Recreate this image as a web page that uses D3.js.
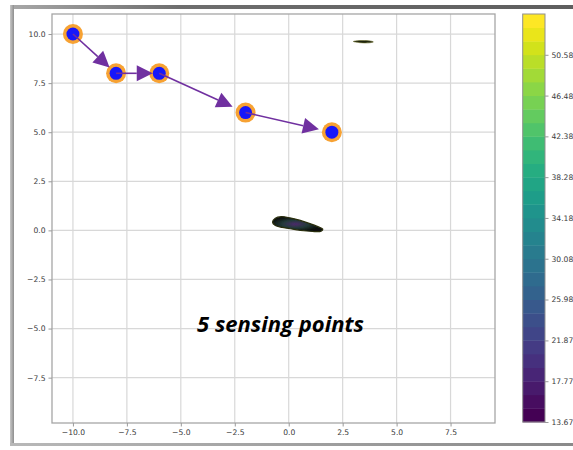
<!DOCTYPE html>
<html>
<head>
<meta charset="utf-8">
<script src="https://cdn.jsdelivr.net/npm/d3@7"></script>
<style>
  html, body { margin: 0; padding: 0; background: #fff; }
  svg { display: block; }
</style>
</head>
<body>
<svg id="chart" width="573" height="450"></svg>
<script>
// Sensing path: positions visited, in order
const pathX = [-10, -8, -6, -2, 2];
const pathY = [10, 8, 8, 6, 5];

// Axis ticks
const xTicks = [-10.0, -7.5, -5.0, -2.5, 0.0, 2.5, 5.0, 7.5];
const yTicks = [10.0, 7.5, 5.0, 2.5, 0.0, -2.5, -5.0, -7.5];

// Colour scale of the field (contour levels)
const levelMin = 13.67;
const levelMax = 54.68;
const levelCount = 30;
const cbarTickLabels = ["13.67", "17.77", "21.87", "25.98", "30.08", "34.18", "38.28", "42.38", "46.48", "50.58"];

// Field regions that rise above the lowest level
const blobX = [-0.75, -0.62, -0.35, 0.05, 0.5, 0.95, 1.35, 1.58, 1.5, 1.2, 0.7, 0.2, -0.3, -0.62];
const blobY = [0.42, 0.62, 0.7, 0.64, 0.52, 0.36, 0.19, 0.06, -0.04, -0.06, -0.02, 0.06, 0.15, 0.25];
const dashX = [3.0, 3.3, 3.7, 3.92, 3.7, 3.3];
const dashY = [9.62, 9.67, 9.66, 9.6, 9.55, 9.56];

const arrowFraction = 0.85;

const svg = d3.select("#chart");

// Outer frame
const defs = svg.append("defs");
const gTop = defs.append("linearGradient").attr("id", "frameTop").attr("x1", "0").attr("x2", "1");
gTop.append("stop").attr("offset", "0").attr("stop-color", "#a8a8a8");
gTop.append("stop").attr("offset", "0.3").attr("stop-color", "#6e6e6e");
gTop.append("stop").attr("offset", "1").attr("stop-color", "#5e5e5e");
const gBot = defs.append("linearGradient").attr("id", "frameBot").attr("x1", "0").attr("x2", "1");
gBot.append("stop").attr("offset", "0").attr("stop-color", "#b8b8b8");
gBot.append("stop").attr("offset", "1").attr("stop-color", "#8a8a8a");
const gLeft = defs.append("linearGradient").attr("id", "frameLeft").attr("x1", "0").attr("x2", "1");
gLeft.append("stop").attr("offset", "0").attr("stop-color", "#c8c8c8");
gLeft.append("stop").attr("offset", "1").attr("stop-color", "#8e8e8e");

svg.append("rect").attr("x", 10).attr("y", 5).attr("width", 563).attr("height", 4).attr("fill", "url(#frameTop)");
svg.append("rect").attr("x", 10).attr("y", 5).attr("width", 4).attr("height", 441).attr("fill", "url(#frameLeft)");
svg.append("rect").attr("x", 10).attr("y", 443).attr("width", 563).attr("height", 3).attr("fill", "url(#frameBot)");

// Plot area
const plot = { left: 52, right: 495, top: 14, bottom: 423 };
const x = d3.scaleLinear().domain([-10.97, 9.56]).range([plot.left, plot.right]);
const y = d3.scaleLinear().domain([-9.81, 11.02]).range([plot.bottom, plot.top]);

const tickColor = "#9a9a9a";
const labelColor = "#3a3a3a";
const fontFam = "'DejaVu Sans', sans-serif";

// Grid
const grid = svg.append("g").attr("stroke", "#d8d8d8").attr("stroke-width", 1.2);
xTicks.forEach(t => grid.append("line").attr("x1", x(t)).attr("x2", x(t)).attr("y1", plot.top).attr("y2", plot.bottom));
yTicks.forEach(t => grid.append("line").attr("x1", plot.left).attr("x2", plot.right).attr("y1", y(t)).attr("y2", y(t)));

// Field regions
const fieldLine = d3.line().x((d) => x(d[0])).y((d) => y(d[1])).curve(d3.curveCatmullRomClosed);
const blobPts = blobX.map((v, i) => [v, blobY[i]]);
const dashPts = dashX.map((v, i) => [v, dashY[i]]);

defs.append("filter").attr("id", "soft").append("feGaussianBlur").attr("stdDeviation", 0.6);
const inner = defs.append("radialGradient").attr("id", "blobInner").attr("cx", "0.45").attr("cy", "0.5").attr("r", "0.5");
inner.append("stop").attr("offset", "0").attr("stop-color", "#4a2a6a");
inner.append("stop").attr("offset", "0.5").attr("stop-color", "#233a3a");
inner.append("stop").attr("offset", "1").attr("stop-color", "#0b0f0b");

svg.append("path").attr("d", fieldLine(blobPts))
  .attr("fill", "url(#blobInner)").attr("stroke", "#2b2f0e").attr("stroke-width", 1.2)
  .attr("filter", "url(#soft)");
svg.append("path").attr("d", fieldLine(dashPts))
  .attr("fill", "#1d2410").attr("stroke", "#6a6a28").attr("stroke-width", 0.6)
  .attr("filter", "url(#soft)");

// Spines
svg.append("rect").attr("x", plot.left).attr("y", plot.top)
  .attr("width", plot.right - plot.left).attr("height", plot.bottom - plot.top)
  .attr("fill", "none").attr("stroke", "#a6a6a6").attr("stroke-width", 1.3);

// Axes
const xAxis = d3.axisBottom(x).tickValues(xTicks).tickFormat(d3.format(".1f")).tickSize(3.5).tickPadding(3);
const yAxis = d3.axisLeft(y).tickValues(yTicks).tickFormat(d3.format(".1f")).tickSize(3.5).tickPadding(3);

function styleAxis(g) {
  g.select(".domain").remove();
  g.selectAll(".tick line").attr("stroke", tickColor).attr("stroke-width", 1);
  g.selectAll(".tick text").attr("fill", labelColor).attr("font-family", fontFam).attr("font-size", 7.6)
    .text(d => d3.format(".1f")(d).replace("-", "\u2212"));
}
svg.append("g").attr("transform", `translate(0,${plot.bottom})`).call(xAxis).call(styleAxis);
svg.append("g").attr("transform", `translate(${plot.left},0)`).call(yAxis).call(styleAxis);

// Sensing points
const pts = pathX.map((v, i) => [v, pathY[i]]);
svg.append("g").selectAll("circle").data(pts).join("circle")
  .attr("cx", d => x(d[0])).attr("cy", d => y(d[1])).attr("r", 10).attr("fill", "#f7a233");
svg.append("g").selectAll("circle").data(pts).join("circle")
  .attr("cx", d => x(d[0])).attr("cy", d => y(d[1])).attr("r", 6.5).attr("fill", "#1717fa");

// Arrows between consecutive points
const arrowColor = "#7030a0";
const headLen = 16, headHalf = 8;
const arrows = svg.append("g");
for (let i = 0; i < pts.length - 1; i++) {
  const [x0, y0] = pts[i];
  const [x1, y1] = pts[i + 1];
  const tx = x0 + (x1 - x0) * arrowFraction;
  const ty = y0 + (y1 - y0) * arrowFraction;
  const px0 = x(x0), py0 = y(y0), pxt = x(tx), pyt = y(ty);
  const len = Math.hypot(pxt - px0, pyt - py0);
  const ux = (pxt - px0) / len, uy = (pyt - py0) / len;
  const bx = pxt - ux * headLen, by = pyt - uy * headLen;
  arrows.append("line").attr("x1", px0).attr("y1", py0).attr("x2", bx).attr("y2", by)
    .attr("stroke", arrowColor).attr("stroke-width", 1.6);
  arrows.append("path")
    .attr("d", `M${pxt},${pyt}L${bx - uy * headHalf},${by + ux * headHalf}L${bx + uy * headHalf},${by - ux * headHalf}Z`)
    .attr("fill", arrowColor);
}

// Annotation
svg.append("text").attr("x", 280.5).attr("y", 332).attr("text-anchor", "middle")
  .attr("font-family", "'Open Sans', sans-serif").attr("font-weight", "bold").attr("font-style", "italic")
  .attr("font-size", 22).attr("fill", "#000").text("5 sensing points");

// Colour bar
const cb = { left: 522.7, right: 545, top: 14, bottom: 422 };
const cbScale = d3.scaleLinear().domain([levelMin, levelMax]).range([cb.bottom, cb.top]);
const step = (levelMax - levelMin) / levelCount;
const bands = d3.range(levelCount);
svg.append("g").selectAll("rect").data(bands).join("rect")
  .attr("x", cb.left).attr("width", cb.right - cb.left)
  .attr("y", i => cbScale(levelMin + (i + 1) * step))
  .attr("height", i => cbScale(levelMin + i * step) - cbScale(levelMin + (i + 1) * step) + 0.4)
  .attr("fill", i => d3.interpolateViridis(i / (levelCount - 1)));
svg.append("rect").attr("x", cb.left).attr("y", cb.top).attr("width", cb.right - cb.left)
  .attr("height", cb.bottom - cb.top).attr("fill", "none").attr("stroke", "#8f8f8f").attr("stroke-width", 1);

const cbTickVals = cbarTickLabels.map(Number);
const cbAxis = d3.axisRight(cbScale).tickValues(cbTickVals).tickSize(3.5).tickPadding(3)
  .tickFormat((d, i) => cbarTickLabels[i]);
svg.append("g").attr("transform", `translate(${cb.right},0)`).call(cbAxis).call(g => {
  g.select(".domain").remove();
  g.selectAll(".tick line").attr("stroke", tickColor);
  g.selectAll(".tick text").attr("fill", labelColor).attr("font-family", fontFam).attr("font-size", 7.6);
});
</script>
</body>
</html>
